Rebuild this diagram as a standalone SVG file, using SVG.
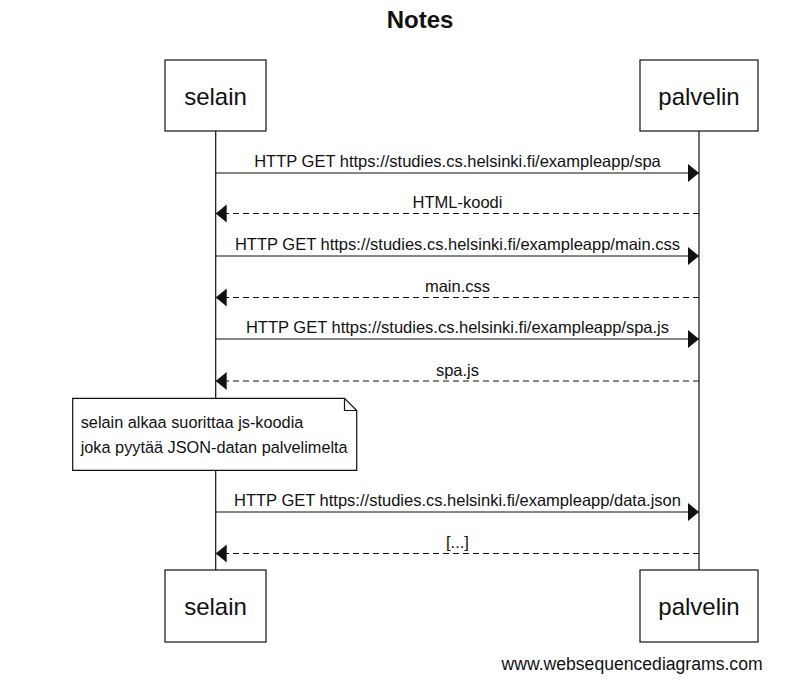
<svg xmlns="http://www.w3.org/2000/svg" width="801" height="684" viewBox="0 0 801 684">
  <style>
    text { font-family: "Liberation Sans", Arial, sans-serif; fill: #111; }
    .title { font-size: 24px; font-weight: bold; text-anchor: middle; }
    .actor rect { fill: #fff; stroke: #111; stroke-width: 1.2; }
    .actor text { font-size: 24px; text-anchor: middle; }
    .lifeline { stroke: #111; stroke-width: 1.2; }
    .msg { stroke: #111; stroke-width: 1.2; fill: none; }
    .ret { stroke-dasharray: 6 4; }
    .lbl { font-size: 16.5px; text-anchor: middle; }
    .note path { fill: #fff; stroke: #111; stroke-width: 1.2; }
    .note text { font-size: 16.3px; }
    .wm { font-size: 17.6px; }
  </style>
  <defs>
    <marker id="arrow" markerUnits="userSpaceOnUse" markerWidth="12" markerHeight="20" refX="11" refY="9.5" orient="auto">
      <path d="M0,0.5 L11,9.5 L0,18.5 z" fill="#111"/>
    </marker>
  </defs>
  <rect width="801" height="684" fill="#fff"/>
  <text class="title" x="420" y="28">Notes</text>

  <g id="lifelines">
    <line class="lifeline" x1="215.7" y1="131" x2="215.7" y2="570"/>
    <line class="lifeline" x1="699" y1="131" x2="699" y2="570"/>
  </g>

  <g id="connectors">
    <line class="msg" x1="215.7" y1="173" x2="699" y2="173" marker-end="url(#arrow)"/>
    <text class="lbl" x="457.5" y="167">HTTP GET https://studies.cs.helsinki.fi/exampleapp/spa</text>
    <line class="msg ret" x1="699" y1="213.5" x2="215.7" y2="213.5" marker-end="url(#arrow)"/>
    <text class="lbl" x="457.5" y="208">HTML-koodi</text>
    <line class="msg" x1="215.7" y1="256" x2="699" y2="256" marker-end="url(#arrow)"/>
    <text class="lbl" x="457.5" y="250">HTTP GET https://studies.cs.helsinki.fi/exampleapp/main.css</text>
    <line class="msg ret" x1="699" y1="297.5" x2="215.7" y2="297.5" marker-end="url(#arrow)"/>
    <text class="lbl" x="457.5" y="292">main.css</text>
    <line class="msg" x1="215.7" y1="339" x2="699" y2="339" marker-end="url(#arrow)"/>
    <text class="lbl" x="457.5" y="333">HTTP GET https://studies.cs.helsinki.fi/exampleapp/spa.js</text>
    <line class="msg ret" x1="699" y1="381" x2="215.7" y2="381" marker-end="url(#arrow)"/>
    <text class="lbl" x="457.5" y="375.5">spa.js</text>
    <line class="msg" x1="215.7" y1="512" x2="699" y2="512" marker-end="url(#arrow)"/>
    <text class="lbl" x="457.5" y="506">HTTP GET https://studies.cs.helsinki.fi/exampleapp/data.json</text>
    <line class="msg ret" x1="699" y1="553.5" x2="215.7" y2="553.5" marker-end="url(#arrow)"/>
    <text class="lbl" x="457.5" y="548">[...]</text>
  </g>

  <g id="note" class="note">
    <path d="M72.7,398.3 H344.5 L356.7,410.5 V470.3 H72.7 Z M344.5,398.3 V410.5 H356.7"/>
    <text x="80.7" y="428">selain alkaa suorittaa js-koodia</text>
    <text x="80.7" y="452.7">joka pyytää JSON-datan palvelimelta</text>
  </g>

  <g id="selain-top" class="actor">
    <rect x="165" y="60" width="101" height="71"/>
    <text x="215.5" y="104.5">selain</text>
  </g>
  <g id="palvelin-top" class="actor">
    <rect x="640" y="60" width="118" height="71"/>
    <text x="699" y="104.5">palvelin</text>
  </g>
  <g id="selain-bottom" class="actor">
    <rect x="165" y="570" width="101" height="72"/>
    <text x="215.5" y="614.5">selain</text>
  </g>
  <g id="palvelin-bottom" class="actor">
    <rect x="640" y="570" width="118" height="72"/>
    <text x="699" y="614.5">palvelin</text>
  </g>

  <text class="wm" x="501.5" y="670">www.websequencediagrams.com</text>
</svg>
